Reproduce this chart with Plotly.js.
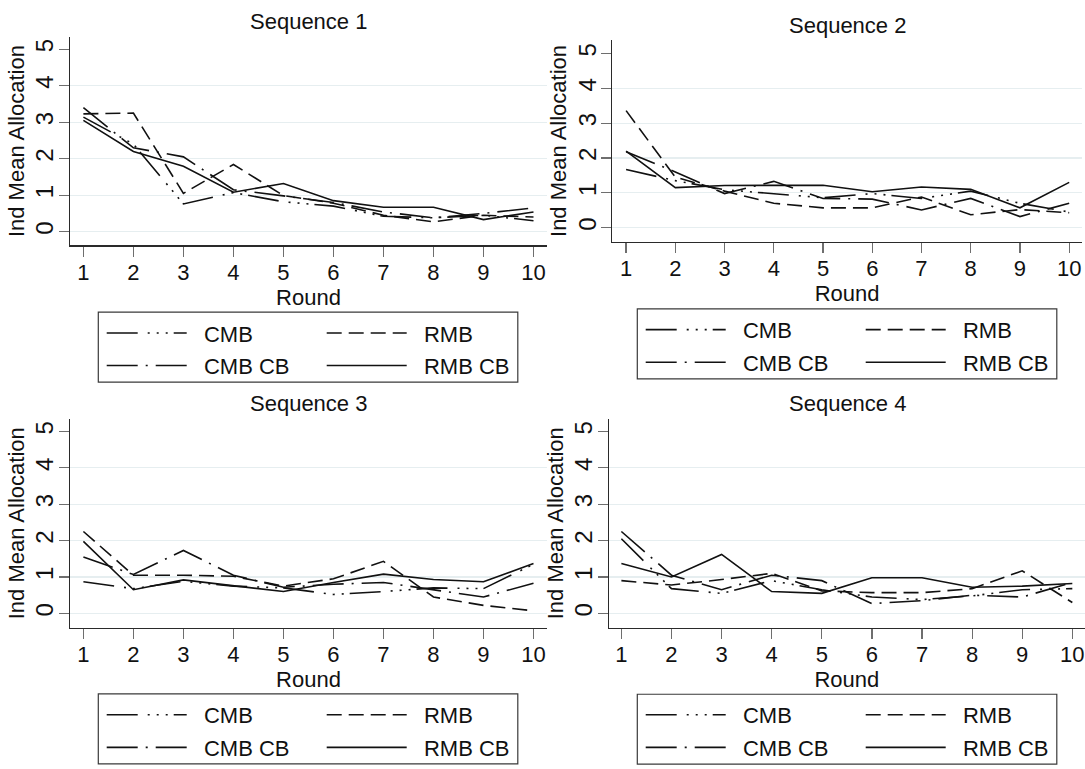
<!DOCTYPE html>
<html>
<head>
<meta charset="utf-8">
<script src="https://cdn.plot.ly/plotly-3.0.1.min.js"></script>
<style>html,body{margin:0;padding:0;background:#fff;}#chart{width:1085px;height:769px;}</style>
</head>
<body>
<div id="chart"></div>
<script>
// ---- data ----
const rounds = [1, 2, 3, 4, 5, 6, 7, 8, 9, 10];
const seriesNames = ['CMB', 'RMB', 'CMB CB', 'RMB CB'];
const panelTitles = ['Sequence 1', 'Sequence 2', 'Sequence 3', 'Sequence 4'];
const yTicks = [0, 1, 2, 3, 4, 5];
const yGrid = [0, 1, 2, 3, 4];

const seq1_CMB   = [3.14, 2.40, 0.76, 1.07, 0.82, 0.70, 0.42, 0.38, 0.45, 0.30];
const seq1_RMB   = [3.23, 3.25, 1.05, 1.84, 0.99, 0.78, 0.45, 0.27, 0.45, 0.40];
const seq1_CMBCB = [3.40, 2.30, 2.05, 1.15, 0.98, 0.80, 0.54, 0.38, 0.50, 0.65];
const seq1_RMBCB = [3.05, 2.20, 1.79, 1.08, 1.32, 0.85, 0.67, 0.67, 0.33, 0.54];

const seq2_CMB   = [1.67, 1.35, 1.09, 0.98, 0.86, 0.98, 0.84, 1.05, 0.70, 0.45];
const seq2_RMB   = [3.36, 1.45, 1.05, 0.70, 0.57, 0.57, 0.88, 0.37, 0.52, 0.43];
const seq2_CMBCB = [2.18, 1.60, 0.98, 1.33, 0.84, 0.82, 0.51, 0.84, 0.32, 0.70];
const seq2_RMBCB = [2.20, 1.15, 1.21, 1.21, 1.22, 1.03, 1.17, 1.10, 0.57, 1.30];

const seq3_CMB   = [0.87, 0.68, 0.88, 0.75, 0.70, 0.52, 0.60, 0.70, 0.68, 1.35];
const seq3_RMB   = [2.25, 1.05, 1.05, 1.02, 0.75, 0.95, 1.43, 0.45, 0.22, 0.07];
const seq3_CMBCB = [1.55, 1.07, 1.73, 1.05, 0.72, 0.80, 0.85, 0.65, 0.45, 0.83];
const seq3_RMBCB = [1.98, 0.65, 0.92, 0.75, 0.60, 0.85, 1.08, 0.93, 0.87, 1.37];

const seq4_CMB   = [2.05, 0.68, 0.55, 0.90, 0.65, 0.45, 0.38, 0.48, 0.65, 0.68];
const seq4_RMB   = [0.90, 0.78, 0.93, 1.10, 0.62, 0.57, 0.57, 0.68, 1.17, 0.30];
const seq4_CMBCB = [2.25, 1.05, 0.65, 1.05, 0.90, 0.27, 0.35, 0.50, 0.45, 0.85];
const seq4_RMBCB = [1.37, 1.00, 1.62, 0.60, 0.55, 0.98, 0.98, 0.72, 0.75, 0.82];

const panelData = [
  [seq1_CMB, seq1_RMB, seq1_CMBCB, seq1_RMBCB],
  [seq2_CMB, seq2_RMB, seq2_CMBCB, seq2_RMBCB],
  [seq3_CMB, seq3_RMB, seq3_CMBCB, seq3_RMBCB],
  [seq4_CMB, seq4_RMB, seq4_CMBCB, seq4_RMBCB]
];

// ---- styling / geometry ----
const W = 1085, H = 769;
const FONT = 'Liberation Sans, Arial, Helvetica, sans-serif';
const FS = 22;
const INK = '#111111';
const dashes = ['31px,10px,2px,7px,2px,7px,2px,6px', '15px,7px', '31px,8px,2px,8px', 'solid'];
const panels = [
  {l: 70,    r: 547,  t: 37.3, b: 249,   xr: [0.732, 10.27], yr: [-0.378, 5.343], tx: 308, ty: 21.7, lbx: 98.3,  lby: 316.7},
  {l: 612.3, r: 1082, t: 40.7, b: 245.3, xr: [0.72, 10.26],  yr: [-0.405, 5.385], tx: 847, ty: 26,   lbx: 637.3, lby: 313.3},
  {l: 70,    r: 547,  t: 425,  b: 636.7, xr: [0.732, 10.27], yr: [-0.39, 5.344],  tx: 308, ty: 409,  lbx: 98.3,  lby: 704},
  {l: 608.7, r: 1085, t: 425,  b: 636.7, xr: [0.747, 10.253],yr: [-0.39, 5.344],  tx: 847, ty: 409,  lbx: 637.3, lby: 704.3}
];

const NB = '\u00a0\u00a0';
const traces = [];
const layout = {
  width: W, height: H,
  margin: {l: 0, r: 0, t: 0, b: 0, pad: 0},
  paper_bgcolor: '#ffffff', plot_bgcolor: '#ffffff',
  font: {family: FONT, size: FS, color: INK},
  showlegend: true,
  annotations: [], shapes: []
};

panels.forEach((p, i) => {
  const n = i + 1;
  const xa = 'xaxis' + (n === 1 ? '' : n), ya = 'yaxis' + (n === 1 ? '' : n);
  const xid = 'x' + (n === 1 ? '' : n), yid = 'y' + (n === 1 ? '' : n);
  layout[xa] = {
    domain: [p.l / W, p.r / W], range: p.xr, anchor: yid,
    tickmode: 'array', tickvals: rounds, ticktext: rounds.map(String),
    ticks: 'outside', ticklen: 10, tickwidth: 1.2, tickcolor: '#6e6e6e', ticklabelstandoff: -3,
    showline: true, linecolor: '#2a2a2a', linewidth: 1.2,
    showgrid: false, zeroline: false, fixedrange: true,
    tickfont: {family: FONT, size: FS, color: INK},
    title: {text: 'Round', font: {family: FONT, size: FS, color: INK}, standoff: 0}
  };
  layout[ya] = {
    domain: [1 - p.b / H, 1 - p.t / H], range: p.yr, anchor: xid,
    tickmode: 'array', tickvals: yTicks, ticktext: yTicks.map(String), tickangle: -90,
    ticks: 'outside', ticklen: 10, tickwidth: 1.2, tickcolor: '#6e6e6e', ticklabelstandoff: -4,
    showline: true, linecolor: '#2a2a2a', linewidth: 1.2,
    showgrid: false, zeroline: false, fixedrange: true,
    minor: {tickmode: 'array', tickvals: yGrid, showgrid: true, gridcolor: '#e6eef0', gridwidth: 1.2, ticks: ''},
    tickfont: {family: FONT, size: 24, color: INK},
    title: {text: 'Ind Mean Allocation', font: {family: FONT, size: FS, color: INK}, standoff: 0}
  };
  const legA = 'legend' + (2 * i + 1 === 1 ? '' : 2 * i + 1);
  const legB = 'legend' + (2 * i + 2);
  const legCommon = {
    orientation: 'v', xanchor: 'left', yanchor: 'top', bgcolor: 'rgba(0,0,0,0)',
    borderwidth: 0, itemwidth: 80, traceorder: 'grouped', tracegroupgap: 1,
    font: {family: FONT, size: FS, color: INK}, itemclick: false, itemdoubleclick: false
  };
  layout[legA] = Object.assign({}, legCommon, {x: (p.lbx + 3.4) / W, y: 1 - p.lby / H});
  layout[legB] = Object.assign({}, legCommon, {x: (p.lbx + 223.4) / W, y: 1 - p.lby / H});
  layout.shapes.push({type: 'rect', xref: 'paper', yref: 'paper',
    x0: p.lbx / W, x1: (p.lbx + 419.5) / W, y0: 1 - (p.lby + 71) / H, y1: 1 - p.lby / H,
    line: {color: '#3a3a3a', width: 1.2}, fillcolor: 'rgba(0,0,0,0)', layer: 'above'});
  layout.annotations.push({text: panelTitles[i], xref: 'paper', yref: 'paper',
    x: p.tx / W, y: 1 - p.ty / H, xanchor: 'center', yanchor: 'middle', showarrow: false,
    font: {family: FONT, size: FS, color: INK}});
  seriesNames.forEach((name, k) => {
    traces.push({
      type: 'scatter', mode: 'lines', x: rounds, y: panelData[i][k],
      xaxis: xid, yaxis: yid, name: NB + name,
      legend: (k === 0 || k === 2) ? legA : legB,
      legendgroup: 'p' + n + '_' + k,
      line: {color: INK, width: 1.6, dash: dashes[k]},
      hoverinfo: 'skip'
    });
  });
});

Plotly.newPlot('chart', traces, layout, {staticPlot: true, displayModeBar: false});
</script>
</body>
</html>
